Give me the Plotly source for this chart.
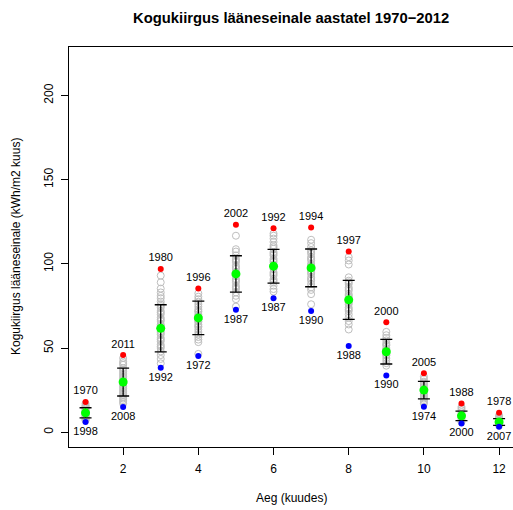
import plotly.graph_objects as go

months = list(range(1, 13))

# all yearly values (open grey circles)
grey_values = [
    [17, 16, 15.5, 15, 14.5, 14, 13.5, 13, 12.5, 12, 11.5, 11, 10.5, 10, 9.5, 9, 8.5, 8, 7.5, 7],
    [44, 42, 41, 40, 38, 37, 36, 35, 34, 33, 32, 31, 30, 29, 28, 27, 26, 25, 24, 23, 22, 21, 20, 19, 18, 17],
    [93, 89, 85.3, 83, 81, 79.6, 77.6, 76, 75, 74, 72, 71, 70, 68, 67, 66, 64, 63, 62, 60, 59, 58, 56, 55, 54, 52, 51, 50, 48, 45.8, 43.5, 40.9],
    [82.5, 80.5, 79, 77.5, 76, 74.5, 73, 72, 71.5, 70, 69, 68.5, 67, 66, 65.5, 64, 63, 62.5, 61, 59.5, 58, 56.5, 55, 53.5, 46.5],
    [116.7, 108.7, 107.3, 105, 103, 102, 101, 99, 98, 97, 95, 94, 93, 91, 90, 89, 87, 86, 85, 83, 81, 79, 74.6],
    [118, 116.7, 115, 113, 111, 110, 109, 107, 106, 105, 103, 102, 101, 99, 98, 97, 95, 94, 93, 91, 90, 89, 87, 85, 83.5],
    [114.3, 112.3, 110, 108, 107, 106, 104, 103, 102, 100, 99, 98, 96, 95, 94, 92, 91, 90, 88, 86, 84.5, 82, 76],
    [104, 102, 99.6, 92, 90, 89, 88, 86, 85, 84, 82, 81, 80, 78, 77, 76, 74, 73, 72, 70, 68, 66, 64, 61],
    [59.6, 57.6, 56, 54.5, 53, 52, 51.5, 50, 49, 48.5, 47, 46, 45.5, 44, 42.5, 41, 39.5],
    [33, 31.5, 30, 29, 28, 27, 26, 25, 24, 23, 22, 21, 20, 19, 18, 17],
    [15, 14, 13, 12, 11, 10, 9, 8, 7, 6],
    [10, 9, 8.5, 8, 7.5, 7, 6.5, 6, 5.5, 5, 4.5, 4],
]

max_values = [18, 45.8, 97, 85.3, 123.2, 121.2, 121.6, 107.3, 65.3, 35, 17, 11.5]
max_years = [1970, 2011, 1980, 1996, 2002, 1992, 1994, 1997, 2000, 2005, 1988, 1978]
min_values = [6, 14.9, 38.3, 45.2, 72.7, 79.6, 72, 51.2, 33.7, 15.1, 5.2, 3.2]
min_years = [1998, 2008, 1992, 1972, 1987, 1987, 1990, 1988, 1990, 1974, 2000, 2007]
mean_values = [11.5, 29.8, 61.7, 67.9, 94, 98.6, 97.6, 78.6, 47.8, 25, 9.7, 6.1]
sd_values = [3, 8.3, 14, 10, 10.8, 10, 11.2, 11.6, 7.3, 5.2, 2.8, 2]

x_ticks = [2, 4, 6, 8, 10, 12]
y_ticks = [0, 50, 100, 150, 200]

FONT = "Liberation Sans, Arial, Helvetica, sans-serif"

gx, gy = [], []
for m, vals in zip(months, grey_values):
    for v in vals:
        gx.append(m)
        gy.append(v)

fig = go.Figure()
fig.add_trace(go.Scatter(
    x=gx, y=gy, mode="markers",
    marker=dict(symbol="circle-open", size=7, color="#BEBEBE", line=dict(width=1, color="#BEBEBE")),
    hoverinfo="skip"))
fig.add_trace(go.Scatter(
    x=months, y=mean_values, mode="markers",
    marker=dict(size=1, color="rgba(0,0,0,0)"),
    error_y=dict(type="data", array=sd_values, symmetric=True, color="black", thickness=1.3, width=6),
    hoverinfo="skip"))
fig.add_trace(go.Scatter(
    x=months, y=mean_values, mode="markers",
    marker=dict(size=9, color="#00FF00")))
fig.add_trace(go.Scatter(
    x=months, y=max_values, mode="markers+text",
    text=[str(y) for y in max_years], textposition="top center",
    textfont=dict(family=FONT, size=11, color="black"),
    marker=dict(size=6, color="#FF0000")))
fig.add_trace(go.Scatter(
    x=months, y=min_values, mode="markers+text",
    text=[str(y) for y in min_years], textposition="bottom center",
    textfont=dict(family=FONT, size=11, color="black"),
    marker=dict(size=6, color="#0000FF")))

fig.update_layout(
    width=513, height=510,
    margin=dict(l=69, r=0, t=47, b=63),
    paper_bgcolor="white", plot_bgcolor="white",
    showlegend=False,
    font=dict(family=FONT, size=12, color="black"),
    xaxis=dict(range=[0.56, 12.37], tickvals=x_ticks, ticks="outside", ticklen=7,
               tickcolor="black", showline=True, linecolor="black", linewidth=1,
               mirror=True, showgrid=False, zeroline=False, ticklabelstandoff=4,
               tickfont=dict(size=12)),
    yaxis=dict(range=[-8.8, 228.8], tickvals=y_ticks, ticks="outside", ticklen=7,
               tickcolor="black", showline=True, linecolor="black", linewidth=1,
               showgrid=False, zeroline=False, tickangle=-90, ticklabelstandoff=3,
               tickfont=dict(size=12)),
    annotations=[
        dict(text="<b>Kogukiirgus lääneseinale aastatel 1970\u22122012</b>", x=0.5, y=1,
             xref="paper", yref="paper", xanchor="center", yanchor="bottom",
             yshift=19, showarrow=False, font=dict(size=14.8)),
        dict(text="Aeg (kuudes)", x=0.5, y=0, xref="paper", yref="paper",
             xanchor="center", yanchor="top", yshift=-42, showarrow=False,
             font=dict(size=12)),
        dict(text="Kogukiirgus lääneseinale (kWh/m2 kuus)", x=0, y=0.5,
             xref="paper", yref="paper", xanchor="right", yanchor="middle",
             xshift=-44, textangle=-90, showarrow=False, font=dict(size=12)),
    ],
)

fig.write_html("out.html")
